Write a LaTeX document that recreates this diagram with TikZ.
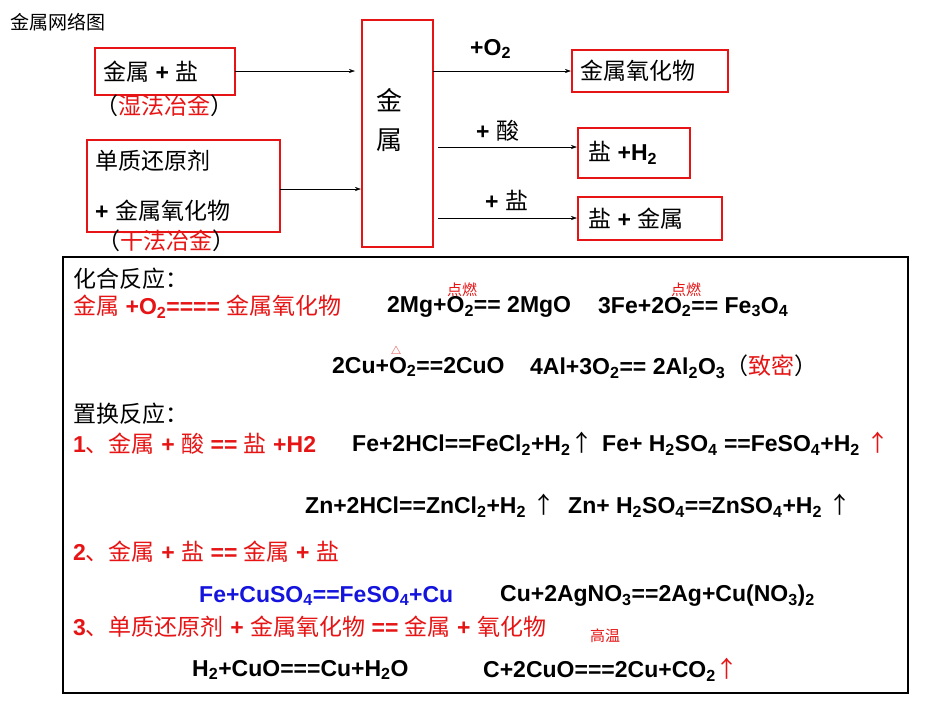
\documentclass[tikz,border=0pt]{standalone}
\usepackage{fontspec}
\setmainfont{Liberation Sans}
\newfontfamily\cjk{Noto Sans CJK SC}[BoldFont=Noto Sans CJK SC]
\newcommand{\zh}[1]{{\cjk #1}}
\newcommand{\sub}[1]{\textsubscript{#1}}
\definecolor{rd}{RGB}{230,20,20}
\definecolor{bl}{RGB}{20,20,220}
\usetikzlibrary{arrows.meta}
\begin{document}
\begin{tikzpicture}[x=1pt,y=-1pt,
  rbox/.style={draw=rd,line width=1.3pt},
  t/.style={anchor=west,inner sep=0pt,font=\fontsize{23}{26}\selectfont\bfseries},
  small/.style={inner sep=0pt,font=\fontsize{15}{17}\selectfont\bfseries,text=rd},
  arr/.style={-{Stealth[length=6pt,width=4pt]},line width=0.5pt}]
\useasboundingbox (0,0) rectangle (950,713);
\node[t,font=\fontsize{19}{21}\selectfont] (title) at (10,22) {\zh{金属网络图}};
% left boxes
\node[rbox,minimum width=140pt,minimum height=47pt] (ms) at (165,71.5) {};
\node[t] at (103,71.5) {\zh{金属} + \zh{盐}};
\node[t] (sf) at (95,106) {\zh{（}\textcolor{rd}{\zh{湿法冶金}}\zh{）}};
\node[rbox,minimum width=193pt,minimum height=92pt] (dz) at (183.5,186) {};
\node[t] at (95,161) {\zh{单质还原剂}};
\node[t] at (95,211) {+ \zh{金属氧化物}};
\node[t] (gf) at (97,241) {\zh{（}\textcolor{rd}{\zh{干法冶金}}\zh{）}};
% metal box
\node[rbox,minimum width=71pt,minimum height=227pt] (m) at (397.5,133.5) {};
\node[t,font=\fontsize{26}{30}\selectfont,anchor=center] at (389,100) {\zh{金}};
\node[t,font=\fontsize{26}{30}\selectfont,anchor=center] at (389,140) {\zh{属}};
% right boxes
\node[rbox,minimum width=156pt,minimum height=42pt] (ox) at (650,71) {};
\node[t] at (580,71) {\zh{金属氧化物}};
\node[rbox,minimum width=112pt,minimum height=50pt] (h2) at (634,153) {};
\node[t] at (588,153) {\zh{盐} +H\sub{2}};
\node[rbox,minimum width=144pt,minimum height=43pt] (sm) at (650,218.5) {};
\node[t] at (588,218.5) {\zh{盐} + \zh{金属}};
% arrows
\coordinate (a1) at (235,71); \coordinate (a1e) at (355,71);
\coordinate (a2) at (280,189); \coordinate (a2e) at (361,189);
\draw[arr] (a1) -- (a1e);
\draw[arr] (a2) -- (a2e);
\coordinate (b1) at (433,71); \coordinate (b1e) at (571,71);
\coordinate (b2) at (438,147); \coordinate (b2e) at (577,147);
\coordinate (b3) at (438,218); \coordinate (b3e) at (577,218);
\draw[arr] (b1) -- (b1e);
\draw[arr] (b2) -- (b2e);
\draw[arr] (b3) -- (b3e);
\node[t] at (470,49) {+O\sub{2}};
\node[t] at (476,131) {+ \zh{酸}};
\node[t] at (485,200) {+ \zh{盐}};
% big box
\node[draw,line width=1.3pt,minimum width=845pt,minimum height=436pt] (big) at (485.5,475) {};
\node[t] at (73,279) {\zh{化合反应：}};
\node[t,text=rd] at (73,307) {\zh{金属} +O\sub{2}==== \zh{金属氧化物}};
\node[t] at (387,307) {2Mg+O\sub{2}== 2MgO};
\node[t] at (598,307) {3Fe+2O\sub{2}== Fe\sub{3}O\sub{4}};
\node[small] at (462,290) {\zh{点燃}};
\node[small] at (686,290) {\zh{点燃}};
\node[t] at (332,367) {2Cu+O\sub{2}==2CuO};
\node[small,font=\fontsize{10}{12}\selectfont] at (396,350) {\zh{△}};
\node[t] at (530,367) {4Al+3O\sub{2}== 2Al\sub{2}O\sub{3}\zh{（}\textcolor{rd}{\zh{致密}}\zh{）}};
\node[t] at (73,414) {\zh{置换反应：}};
\node[t,text=rd] at (73,444) {1\zh{、金属} + \zh{酸} == \zh{盐} +H2};
\node[t] at (352,444) {Fe+2HCl==FeCl\sub{2}+H\sub{2}\zh{↑}};
\node[t] at (602,444) {Fe+ H\sub{2}SO\sub{4} ==FeSO\sub{4}+H\sub{2} \textcolor{rd}{\zh{↑}}};
\node[t] at (305,506) {Zn+2HCl==ZnCl\sub{2}+H\sub{2} \zh{↑}};
\node[t] at (568,506) {Zn+ H\sub{2}SO\sub{4}==ZnSO\sub{4}+H\sub{2} \zh{↑}};
\node[t,text=rd] at (73,552) {2\zh{、金属} + \zh{盐} == \zh{金属} + \zh{盐}};
\node[t,text=bl] at (199,596) {Fe+CuSO\sub{4}==FeSO\sub{4}+Cu};
\node[t] at (500,596) {Cu+2AgNO\sub{3}==2Ag+Cu(NO\sub{3})\sub{2}};
\node[t,text=rd] at (73,627) {3\zh{、单质还原剂} + \zh{金属氧化物} == \zh{金属} + \zh{氧化物}};
\node[small] at (605,636) {\zh{高温}};
\node[t] at (192,670) {H\sub{2}+CuO===Cu+H\sub{2}O};
\node[t] at (483,670) {C+2CuO===2Cu+CO\sub{2}\textcolor{rd}{\zh{↑}}};
\end{tikzpicture}
\end{document}
